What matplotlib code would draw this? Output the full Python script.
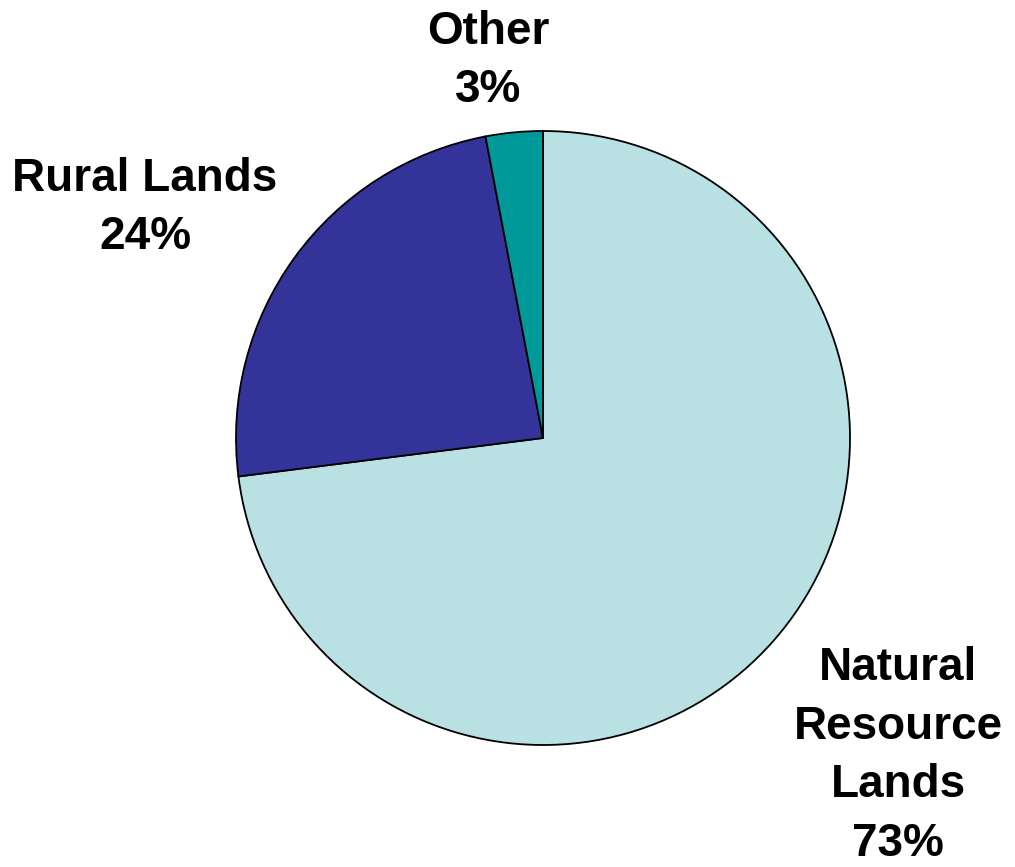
import matplotlib.pyplot as plt

# Données du camembert
categories = ["Natural\nResource\nLands", "Rural Lands", "Other"]
valeurs = [73, 24, 3]
couleurs = ["#B9E0E3", "#333399", "#009999"]

plt.rcParams['font.family'] = ['Liberation Sans', 'DejaVu Sans']

fig = plt.figure(figsize=(10.15, 8.67), dpi=100)
ax = fig.add_axes([0, 0, 1, 1])

# Centre et rayon en pixels (y vers le haut)
centre = (543, 867 - 438)
rayon = 307

ax.pie(valeurs, colors=couleurs, startangle=90, counterclock=False,
       center=centre, radius=rayon, frame=True,
       wedgeprops=dict(edgecolor='black', linewidth=1.3))
ax.set_xlim(0, 1015)
ax.set_ylim(0, 867)
ax.set_aspect('equal')
ax.axis('off')

# Étiquettes (centres en pixels depuis le haut)
positions = [(898, 756), (145, 208), (488, 61)]
for cat, val, (x, y) in zip(categories, valeurs, positions):
    ax.text(x, 867 - y, f"{cat}\n{val}%", ha='center', va='center',
            fontsize=33, fontweight='bold', linespacing=1.43)

fig.savefig("out.png", dpi=100)
